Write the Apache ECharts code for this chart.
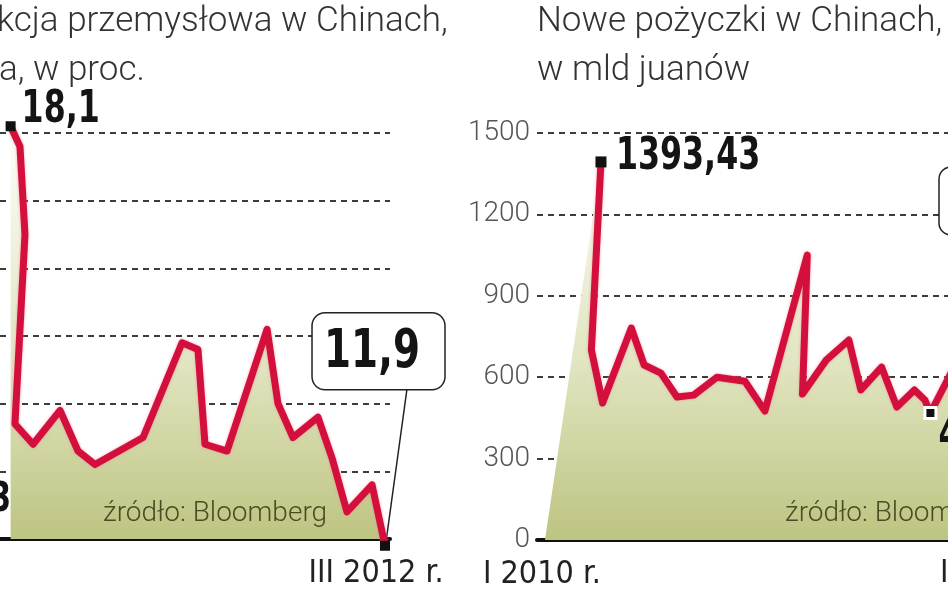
<!DOCTYPE html>
<html><head><meta charset="utf-8">
<script src="https://cdn.jsdelivr.net/npm/echarts@6/dist/echarts.min.js"></script>
<style>html,body{margin:0;padding:0;background:#fff}#c{width:948px;height:593px}</style>
</head><body><div id="c"></div>
<script>
// ---- Left panel: industrial production (y/y, %), time position in months since III 2010
const ipPos = [0, 0.6, 0.92, 0.28, 1.44, 3.17, 4.32, 5.41, 8.49, 10.99, 12.01, 12.46, 13.87, 16.44, 17.14, 18.1, 19.7, 20.6, 21.56, 23.17, 24];
const ipVal = [18.1, 17.8, 16.5, 13.7, 13.4, 13.9, 13.3, 13.1, 13.5, 14.9, 14.8, 13.4, 13.3, 15.1, 14.0, 13.5, 13.8, 13.2, 12.4, 12.8, 11.9];
const ipTickPos = [24];
const ipTickText = ['III 2012 r.'];
const ipYTicks = {min: 12, max: 18, step: 1};

// ---- Right panel: new loans (bn yuan), time position in months since I 2010
const loanPos = [0, -0.6, 0.1, 1.9, 2.7, 3.75, 4.75, 5.8, 7.25, 9.0, 10.25, 12.9, 12.6, 14.1, 15.5, 16.25, 17.55, 18.5, 19.6, 20.25, 20.6, 22.1];
const loanVal = [1393.43, 700, 505, 781, 645, 615, 527, 534, 600, 585, 475, 1050, 538, 664, 737, 553, 637, 490, 553, 516, 468, 640];
const loanAreaStart = [-3.5, 0];
const loanTickPos = [0];
const loanTickText = ['I 2010 r.'];
const loanYTicks = {min: 0, max: 1500, step: 300};

const titleLeft = ['kcja przemysłowa w Chinach,', 'a, w proc.'];
const titleRight = ['Nowe pożyczki w Chinach,', 'w mld juanów'];
const sourceText = 'źródło: Bloomberg';

const BOLD = "'DejaVu Sans Condensed','Liberation Sans Narrow',sans-serif";
const NARROW = "'DejaVu Sans Condensed','Liberation Sans Narrow',sans-serif";
const LIGHT = "Roboto, 'Open Sans', sans-serif";
const RED = '#d3103c';

const chart = echarts.init(document.getElementById('c'));
const GRID_TOP = 133, GRID_BOT = 539;
function fill() {
  return new echarts.graphic.LinearGradient(0, GRID_TOP, 0, GRID_BOT, [
    {offset: 0, color: '#fdfdf7'}, {offset: 0.55, color: '#e2e6c3'}, {offset: 1, color: '#bec481'}
  ], true);
}
const fmt = v => String(v).replace('.', ',');
const split = {show: true, lineStyle: {color: '#3d3d35', type: [6, 5], width: 2}};

function lineData(pos, val, special) {
  return pos.map((x, i) => {
    const it = {value: [x, val[i]]};
    if (special[i]) Object.assign(it, special[i]);
    return it;
  });
}
const ipSpecial = {};
ipSpecial[0] = {symbol: 'rect', symbolSize: 10, itemStyle: {color: '#111'}};
ipSpecial[ipVal.length - 1] = {symbol: 'rect', symbolSize: 10, itemStyle: {color: '#111'}};
const MIN_IDX = 20;
const loanSpecial = {};
loanSpecial[0] = {symbol: 'rect', symbolSize: 11, itemStyle: {color: '#111'}};
loanSpecial[MIN_IDX] = {symbol: 'rect', symbolSize: 11, itemStyle: {color: '#111', borderColor: '#fff', borderWidth: 3}};

const lineStyle = {color: RED, width: 7, join: 'round', shadowColor: 'rgba(240,130,160,0.7)', shadowBlur: 3};
const xLabel = {show: true, fontFamily: NARROW, fontSize: 32, color: '#222', margin: 19};

const option = {
  animation: false,
  backgroundColor: '#fff',
  grid: [
    {left: 0, right: 558, top: GRID_TOP, bottom: 593 - GRID_BOT},
    {left: 537, right: 0, top: GRID_TOP, bottom: 593 - 540}
  ],
  xAxis: [
    {type: 'value', gridIndex: 0, min: -0.68, max: 24.32, splitLine: {show: false}, axisTick: {show: false},
     axisLine: {show: true, onZero: false, lineStyle: {color: '#111', width: 4}},
     axisLabel: Object.assign({}, xLabel, {customValues: ipTickPos, formatter: v => ipTickText[ipTickPos.indexOf(v)] || '', padding: [0, 18, 0, 0]})},
    {type: 'value', gridIndex: 1, min: -4, max: 21.7, splitLine: {show: false}, axisTick: {show: false},
     axisLine: {show: true, onZero: false, lineStyle: {color: '#111', width: 4}},
     axisLabel: Object.assign({}, xLabel, {customValues: loanTickPos, formatter: v => loanTickText[loanTickPos.indexOf(v)] || '', align: 'right'})}
  ],
  yAxis: [
    {type: 'value', gridIndex: 0, min: ipYTicks.min, max: ipYTicks.max, interval: ipYTicks.step,
     axisLabel: {show: false}, axisLine: {show: false}, axisTick: {show: false}, splitLine: split},
    {type: 'value', gridIndex: 1, min: loanYTicks.min, max: loanYTicks.max, interval: loanYTicks.step,
     axisLabel: {show: true, formatter: v => String(v), fontFamily: LIGHT, fontWeight: 300, fontSize: 28, color: '#555', margin: 7},
     axisLine: {show: false}, axisTick: {show: false}, splitLine: split}
  ],
  series: [
    {type: 'line', xAxisIndex: 0, yAxisIndex: 0, clip: false, symbol: 'none', silent: true, z: 1,
     lineStyle: {width: 0, opacity: 0}, areaStyle: {color: fill(), opacity: 1},
     data: ipPos.map((x, i) => [x, ipVal[i]])},
    {type: 'line', xAxisIndex: 0, yAxisIndex: 0, clip: false, symbol: 'none', z: 3,
     lineStyle: lineStyle, data: lineData(ipPos, ipVal, ipSpecial)},
    {type: 'line', xAxisIndex: 1, yAxisIndex: 1, clip: true, symbol: 'none', silent: true, z: 1,
     lineStyle: {width: 0, opacity: 0}, areaStyle: {color: fill(), opacity: 1},
     data: [loanAreaStart].concat(loanPos.map((x, i) => [x, loanVal[i]]))},
    {type: 'line', xAxisIndex: 1, yAxisIndex: 1, clip: true, symbol: 'none', z: 3,
     lineStyle: lineStyle, data: lineData(loanPos, loanVal, loanSpecial)}
  ]
};
chart.setOption(option);

// annotations anchored to the data points
const last = ipVal.length - 1;
const pL0 = chart.convertToPixel({xAxisIndex: 0, yAxisIndex: 0}, [ipPos[0], ipVal[0]]);
const pL = chart.convertToPixel({xAxisIndex: 0, yAxisIndex: 0}, [ipPos[last], ipVal[last]]);
const pR0 = chart.convertToPixel({xAxisIndex: 1, yAxisIndex: 1}, [loanPos[0], loanVal[0]]);
const pRm = chart.convertToPixel({xAxisIndex: 1, yAxisIndex: 1}, [loanPos[MIN_IDX], loanVal[MIN_IDX]]);

const titleStyle = {fontFamily: LIGHT, fontWeight: 300, fontSize: 35, fill: '#333'};
const srcStyle = {fontFamily: LIGHT, fontWeight: 300, fontSize: 28, fill: '#4a4d22'};
function bold(text, x, y, size, align) {
  return {type: 'text', x: x, y: y, z: 10, scaleX: 0.8,
    style: {text: text, fontFamily: BOLD, fontWeight: 'bold', fontSize: size, fill: '#141414', align: align || 'left', verticalAlign: 'middle'}};
}
chart.setOption({graphic: [
  {type: 'text', x: -3, y: 5, z: 10, style: Object.assign({text: titleLeft[0]}, titleStyle)},
  {type: 'text', x: -1, y: 54, z: 10, style: Object.assign({text: titleLeft[1]}, titleStyle)},
  {type: 'text', x: 537, y: 5, z: 10, style: Object.assign({text: titleRight[0]}, titleStyle)},
  {type: 'text', x: 537, y: 54, z: 10, style: Object.assign({text: titleRight[1]}, titleStyle)},
  {type: 'text', x: 103, y: 500, z: 10, style: Object.assign({text: sourceText}, srcStyle)},
  {type: 'text', x: 785, y: 500, z: 10, style: Object.assign({text: sourceText}, srcStyle)},
  bold('3', 11, 501, 40, 'right'),
  bold(fmt(ipVal[0]), pL0[0] + 11, pL0[1] - 16, 44),
  bold(fmt(loanVal[0]), pR0[0] + 15, pR0[1] - 4, 44),
  bold(fmt(loanVal[MIN_IDX]), pRm[0] + 8, pRm[1] + 24, 44),
  {type: 'text', x: 940, y: 558, z: 10, style: {text: ipTickText[0], fontFamily: NARROW, fontSize: 32, fill: '#222'}},
  {type: 'rect', x: 939, y: 167, z: 2, shape: {width: 160, height: 68, r: 12}, style: {fill: '#fff', stroke: '#222', lineWidth: 1.5}},
  // callout for the last value of the left panel
  {type: 'line', z: 2, shape: {x1: pL[0] + 22, y1: pL[1] - 157, x2: pL[0] + 1, y2: pL[1] - 4}, style: {stroke: '#222', lineWidth: 1.5}},
  {type: 'rect', x: pL[0] - 73, y: pL[1] - 233, z: 2, shape: {width: 133, height: 77, r: 13}, style: {fill: '#fff', stroke: '#222', lineWidth: 1.5}},
  bold(fmt(ipVal[last]), pL[0] - 13, pL[1] - 193, 54, 'center')
]});
</script></body></html>
